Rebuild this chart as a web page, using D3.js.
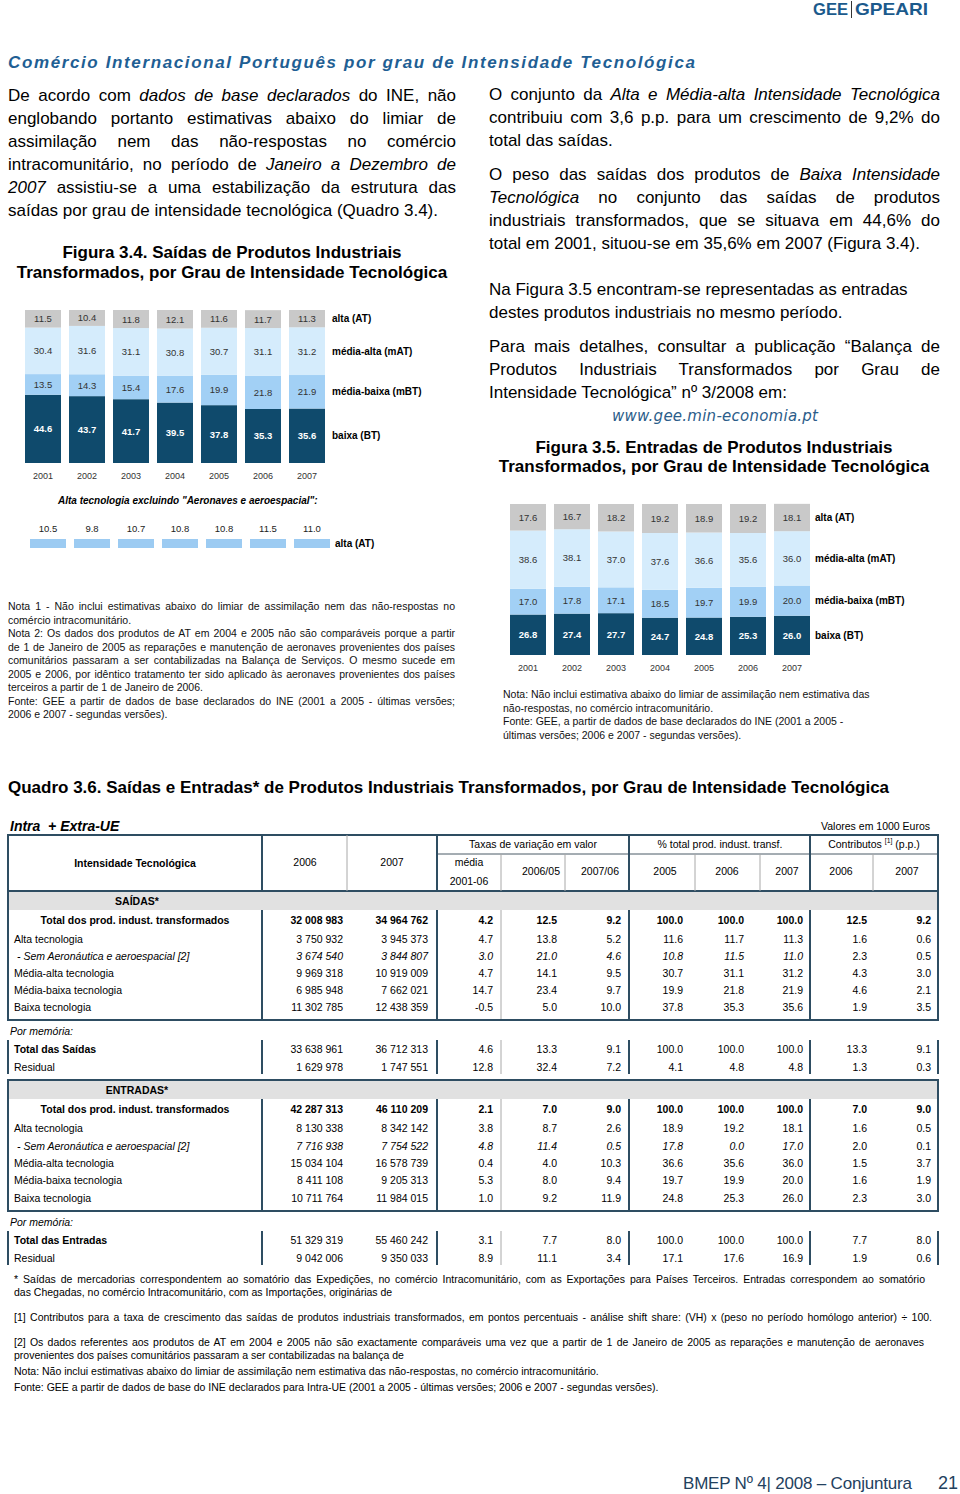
<!DOCTYPE html>
<html><head><meta charset="utf-8">
<script src="https://cdn.jsdelivr.net/npm/d3@7"></script>
<style>
body{margin:0;background:#fff;}
#page{position:relative;width:960px;height:1494px;overflow:hidden;font-family:"Liberation Sans",Arial,sans-serif;}
svg{position:absolute;left:0;top:0;font-family:"Liberation Sans",Arial,sans-serif;}
</style></head><body><div id="page"><svg id="svg" width="960" height="1494"></svg></div>
<script>
// ---------------- DATA ----------------
const years = ['2001','2002','2003','2004','2005','2006','2007'];
const seriesKeys = ['BT','mBT','mAT','AT'];
const seriesLabels = {AT:'alta (AT)', mAT:'média-alta (mAT)', mBT:'média-baixa (mBT)', BT:'baixa (BT)'};
// Figura 3.4 Saídas (%)
const saidasAT  = [11.5,10.4,11.8,12.1,11.6,11.7,11.3];
const saidasMAT = [30.4,31.6,31.1,30.8,30.7,31.1,31.2];
const saidasMBT = [13.5,14.3,15.4,17.6,19.9,21.8,21.9];
const saidasBT  = [44.6,43.7,41.7,39.5,37.8,35.3,35.6];
const saidasATexAero = [10.5,9.8,10.7,10.8,10.8,11.5,11.0];
// Figura 3.5 Entradas (%)
const entradasAT  = [17.6,16.7,18.2,19.2,18.9,19.2,18.1];
const entradasMAT = [38.6,38.1,37.0,37.6,36.6,35.6,36.0];
const entradasMBT = [17.0,17.8,17.1,18.5,19.7,19.9,20.0];
const entradasBT  = [26.8,27.4,27.7,24.7,24.8,25.3,26.0];
// Quadro 3.6
const saidasRowLabels = ['Total dos prod. indust. transformados','Alta tecnologia','- Sem Aeronáutica e aeroespacial [2]','Média-alta tecnologia','Média-baixa tecnologia','Baixa tecnologia'];
const saidasRows = [
 ['32 008 983','34 964 762','4.2','12.5','9.2','100.0','100.0','100.0','12.5','9.2'],
 ['3 750 932','3 945 373','4.7','13.8','5.2','11.6','11.7','11.3','1.6','0.6'],
 ['3 674 540','3 844 807','3.0','21.0','4.6','10.8','11.5','11.0','2.3','0.5'],
 ['9 969 318','10 919 009','4.7','14.1','9.5','30.7','31.1','31.2','4.3','3.0'],
 ['6 985 948','7 662 021','14.7','23.4','9.7','19.9','21.8','21.9','4.6','2.1'],
 ['11 302 785','12 438 359','-0.5','5.0','10.0','37.8','35.3','35.6','1.9','3.5']];
const saidasMemoLabels = ['Total das Saídas','Residual'];
const saidasMemo = [
 ['33 638 961','36 712 313','4.6','13.3','9.1','100.0','100.0','100.0','13.3','9.1'],
 ['1 629 978','1 747 551','12.8','32.4','7.2','4.1','4.8','4.8','1.3','0.3']];
const entradasRowLabels = saidasRowLabels;
const entradasRows = [
 ['42 287 313','46 110 209','2.1','7.0','9.0','100.0','100.0','100.0','7.0','9.0'],
 ['8 130 338','8 342 142','3.8','8.7','2.6','18.9','19.2','18.1','1.6','0.5'],
 ['7 716 938','7 754 522','4.8','11.4','0.5','17.8','0.0','17.0','2.0','0.1'],
 ['15 034 104','16 578 739','0.4','4.0','10.3','36.6','35.6','36.0','1.5','3.7'],
 ['8 411 108','9 205 313','5.3','8.0','9.4','19.7','19.9','20.0','1.6','1.9'],
 ['10 711 764','11 984 015','1.0','9.2','11.9','24.8','25.3','26.0','2.3','3.0']];
const entradasMemoLabels = ['Total das Entradas','Residual'];
const entradasMemo = [
 ['51 329 319','55 460 242','3.1','7.7','8.0','100.0','100.0','100.0','7.7','8.0'],
 ['9 042 006','9 350 033','8.9','11.1','3.4','17.1','17.6','16.9','1.9','0.6']];

// ---------------- HELPERS ----------------
const svg = d3.select('#svg');
function txt(x, y, segs, o = {}) {
  const t = (o.g || svg).append('text').attr('x', x).attr('y', y)
    .attr('font-size', o.size || 17).attr('font-weight', o.weight || 'normal')
    .attr('font-style', o.style || 'normal').attr('fill', o.fill || '#000')
    .attr('text-anchor', o.anchor || 'start').attr('dominant-baseline', 'central')
    .style('white-space', 'pre');
  if (o.family) t.attr('font-family', o.family);
  if (typeof segs === 'string') segs = [[segs]];
  segs.forEach(([s, f]) => {
    const ts = t.append('tspan').text(s);
    if (f && f.includes('i')) ts.attr('font-style', 'italic');
    if (f && f.includes('b')) ts.attr('font-weight', 'bold');
    if (f && f.includes('s')) ts.attr('font-size', (o.size || 17) * 0.65).attr('dy', -4);
    if (f && f.includes('r')) ts.attr('dy', 4);
  });
  if (o.width) {
    const w = t.node().getComputedTextLength();
    const n = (t.text().match(/ /g) || []).length;
    if (n) t.attr('word-spacing', (o.width - w) / n);
  }
  if (o.len) t.attr('textLength', o.len).attr('lengthAdjust', o.adj || 'spacing');
  return t;
}
function para(x, y0, lh, lines, o) {
  lines.forEach((l, i) => {
    const seg = l.s, oo = Object.assign({}, o);
    if (!l.j) delete oo.width;
    txt(x, y0 + i * lh, seg, oo);
  });
}

// ---------------- HEADER ----------------
txt(813, 9, 'GEE', {size: 17, weight: 'bold', fill: '#1b5a8c', len: 35, adj: 'spacingAndGlyphs'});
svg.append('line').attr('x1', 851.5).attr('x2', 851.5).attr('y1', 1).attr('y2', 18).attr('stroke', '#333').attr('stroke-width', 1);
txt(855, 9, 'GPEARI', {size: 17, weight: 'bold', fill: '#1b5a8c', len: 73, adj: 'spacingAndGlyphs'});
txt(8, 62, 'Comércio Internacional Português por grau de Intensidade Tecnológica',
  {size: 17, weight: 'bold', style: 'italic', fill: '#1f5f94', len: 687});

// ---------------- LEFT TEXT ----------------
para(8, 95, 23, [
  {s: [['De acordo com '], ['dados de base declarados', 'i'], [' do INE, não']], j: 1},
  {s: 'englobando portanto estimativas abaixo do limiar de', j: 1},
  {s: 'assimilação nem das não-respostas no comércio', j: 1},
  {s: [['intracomunitário, no período de '], ['Janeiro a Dezembro de', 'i']], j: 1},
  {s: [['2007', 'i'], [' assistiu-se a uma estabilização da estrutura das']], j: 1},
  {s: 'saídas por grau de intensidade tecnológica (Quadro 3.4).'}
], {size: 17, width: 448});

txt(232, 252, 'Figura 3.4. Saídas de Produtos Industriais', {size: 17, weight: 'bold', anchor: 'middle'});
txt(232, 272, 'Transformados, por Grau de Intensidade Tecnológica', {size: 17, weight: 'bold', anchor: 'middle'});

// ---------------- RIGHT TEXT ----------------
para(489, 94, 23, [
  {s: [['O conjunto da '], ['Alta e Média-alta Intensidade Tecnológica', 'i']], j: 1},
  {s: 'contribuiu com 3,6 p.p. para um crescimento de 9,2% do', j: 1},
  {s: 'total das saídas.'}
], {size: 17, width: 451});
para(489, 174, 23, [
  {s: [['O peso das saídas dos produtos de '], ['Baixa Intensidade', 'i']], j: 1},
  {s: [['Tecnológica', 'i'], [' no conjunto das saídas de produtos']], j: 1},
  {s: 'industriais transformados, que se situava em 44,6% do', j: 1},
  {s: 'total em 2001, situou-se em 35,6% em 2007 (Figura 3.4).'}
], {size: 17, width: 451});
para(489, 289, 23, [
  {s: 'Na Figura 3.5 encontram-se representadas as entradas'},
  {s: 'destes produtos industriais no mesmo período.'}
], {size: 17});
para(489, 346, 23, [
  {s: 'Para mais detalhes, consultar a publicação “Balança de', j: 1},
  {s: 'Produtos Industriais Transformados por Grau de', j: 1},
  {s: 'Intensidade Tecnológica” nº 3/2008 em:'}
], {size: 17, width: 451});
txt(612, 416, 'www.gee.min-economia.pt', {size: 15, style: 'italic', fill: '#2b5d8a', family: '"DejaVu Sans", sans-serif', len: 206});
txt(714, 447, 'Figura 3.5. Entradas de Produtos Industriais', {size: 17, weight: 'bold', anchor: 'middle'});
txt(714, 466, 'Transformados, por Grau de Intensidade Tecnológica', {size: 17, weight: 'bold', anchor: 'middle'});

// ---------------- STACKED CHARTS ----------------
const colors = {AT: '#c9c9c9', mAT: '#d5ecfc', mBT: '#a2d0f5', BT: '#0f4a6c'};
function stackChart(cfg) {
  const g = svg.append('g');
  const x = d3.scaleBand().domain(years).range(cfg.xr).paddingInner(8 / 44).paddingOuter(4 / 44);
  const y = d3.scaleLinear().domain([0, 100]).range(cfg.yr);
  const rows = years.map((yr, i) => ({year: yr, BT: cfg.BT[i], mBT: cfg.mBT[i], mAT: cfg.mAT[i], AT: cfg.AT[i]}));
  const st = d3.stack().keys(seriesKeys)(rows);
  const layer = g.selectAll('g.layer').data(st).join('g').attr('class', 'layer');
  layer.selectAll('rect').data(d => d.map(p => Object.assign(p, {key: d.key}))).join('rect')
    .attr('x', d => x(d.data.year)).attr('width', x.bandwidth())
    .attr('y', d => y(d[1])).attr('height', d => y(d[0]) - y(d[1]))
    .attr('fill', d => colors[d.key]);
  layer.selectAll('text').data(d => d).join('text')
    .attr('x', d => x(d.data.year) + x.bandwidth() / 2)
    .attr('y', d => (y(d[0]) + y(d[1])) / 2)
    .attr('text-anchor', 'middle').attr('dominant-baseline', 'central')
    .attr('font-size', 9.5)
    .attr('font-weight', d => d.key === 'BT' ? 'bold' : 'normal')
    .attr('fill', d => d.key === 'BT' ? '#fff' : '#333')
    .text(d => d.data[d.key].toFixed(1));
  // series labels at the last bar
  const last = years[years.length - 1];
  st.forEach(s => {
    const p = s[s.length - 1];
    g.append('text').attr('x', cfg.labelX).attr('y', (y(p[0]) + y(p[1])) / 2)
      .attr('dominant-baseline', 'central').attr('font-size', 10).attr('font-weight', 'bold')
      .text(seriesLabels[s.key]);
  });
  const ax = g.append('g').attr('transform', `translate(0,${cfg.yr[0]})`)
    .call(d3.axisBottom(x).tickSize(0).tickPadding(10));
  ax.select('.domain').remove();
  ax.selectAll('text').attr('font-size', 9).attr('fill', '#333').attr('font-family', '"Liberation Sans",Arial,sans-serif');
  return {x, y};
}
stackChart({xr: [21, 329], yr: [463, 310], AT: saidasAT, mAT: saidasMAT, mBT: saidasMBT, BT: saidasBT, labelX: 332});
stackChart({xr: [506, 814], yr: [655, 504], AT: entradasAT, mAT: entradasMAT, mBT: entradasMBT, BT: entradasBT, labelX: 815});

// Alta tecnologia excluindo aeronaves
txt(58, 500, 'Alta tecnologia excluindo "Aeronaves e aeroespacial":', {size: 10, weight: 'bold', style: 'italic'});
{
  const x = d3.scaleBand().domain(years).range([26, 334]).paddingInner(8 / 44).paddingOuter(4 / 44);
  const g = svg.append('g');
  g.selectAll('rect').data(years).join('rect')
    .attr('x', d => x(d)).attr('width', x.bandwidth()).attr('y', 539).attr('height', 9).attr('fill', '#9ccbf2');
  g.selectAll('text').data(saidasATexAero).join('text')
    .attr('x', (d, i) => x(years[i]) + x.bandwidth() / 2).attr('y', 528)
    .attr('text-anchor', 'middle').attr('dominant-baseline', 'central').attr('font-size', 9.5).attr('fill', '#222')
    .text(d => d.toFixed(1));
  txt(335, 543, 'alta (AT)', {size: 10, weight: 'bold'});
}

// ---------------- NOTES ----------------
para(8, 606, 13.5, [
  {s: 'Nota 1 - Não inclui estimativas abaixo do limiar de assimilação nem das não-respostas no', j: 1},
  {s: 'comércio intracomunitário.'},
  {s: 'Nota 2: Os dados dos produtos de AT em 2004 e 2005 não são comparáveis porque a partir', j: 1},
  {s: 'de 1 de Janeiro de 2005 as reparações e manutenção de aeronaves provenientes dos países', j: 1},
  {s: 'comunitários passaram a ser contabilizadas na Balança de Serviços. O mesmo sucede em', j: 1},
  {s: '2005 e 2006, por idêntico tratamento ter sido aplicado às aeronaves provenientes dos países', j: 1},
  {s: 'terceiros a partir de 1 de Janeiro de 2006.'},
  {s: 'Fonte: GEE a partir de dados de base declarados do INE (2001 a 2005 - últimas versões;', j: 1},
  {s: '2006 e 2007 - segundas versões).'}
], {size: 10.5, width: 447, fill: '#111'});
para(503, 694, 13.5, [
  {s: 'Nota: Não inclui estimativa abaixo do limiar de assimilação nem estimativa das'},
  {s: 'não-respostas, no comércio intracomunitário.'},
  {s: 'Fonte: GEE, a partir de dados de base declarados do INE (2001 a 2005 -'},
  {s: 'últimas versões; 2006 e 2007 - segundas versões).'}
], {size: 10.5, fill: '#111'});

// ---------------- QUADRO 3.6 ----------------
txt(8, 787, 'Quadro 3.6. Saídas e Entradas* de Produtos Industriais Transformados, por Grau de Intensidade Tecnológica', {size: 17, weight: 'bold'});
txt(10, 826, 'Intra  + Extra-UE', {size: 14, weight: 'bold', style: 'italic'});
txt(930, 826, 'Valores em 1000 Euros', {size: 10.5, anchor: 'end'});

const T = svg.append('g');
const thick = '#2e4d62', thin = '#a8a8a8';
function hl(y, x1, x2, w, c) { T.append('line').attr('x1', x1).attr('x2', x2).attr('y1', y).attr('y2', y).attr('stroke', c).attr('stroke-width', w); }
function vl(x, y1, y2, w, c) { T.append('line').attr('x1', x).attr('x2', x).attr('y1', y1).attr('y2', y2).attr('stroke', c).attr('stroke-width', w); }
const thickCols = [8, 262, 437, 629, 810, 938];
const colRight = [343, 428, 493, 557, 621, 683, 744, 803, 867, 931];

// header
T.append('rect').attr('x', 8).attr('y', 892).attr('width', 930).attr('height', 18).attr('fill', '#e1e1e1');
hl(835, 7, 939, 2, thick); hl(891, 7, 939, 2, thick); hl(854, 437, 938, 1, '#4a5a66');
thickCols.forEach(c => vl(c, 835, 891, 2, thick));
vl(347, 835, 891, 1, thin);
[501, 565, 695, 760, 873].forEach(c => vl(c, 854, 891, 1, thin));
const hs = 10.5;
txt(135, 863, 'Intensidade Tecnológica', {size: hs, weight: 'bold', anchor: 'middle'});
txt(305, 862, '2006', {size: hs, anchor: 'middle'});
txt(392, 862, '2007', {size: hs, anchor: 'middle'});
txt(533, 844, 'Taxas de variação em valor', {size: hs, anchor: 'middle'});
txt(469, 862, 'média', {size: hs, anchor: 'middle'});
txt(469, 881, '2001-06', {size: hs, anchor: 'middle'});
txt(541, 871, '2006/05', {size: hs, anchor: 'middle'});
txt(600, 871, '2007/06', {size: hs, anchor: 'middle'});
txt(720, 844, '% total prod. indust. transf.', {size: hs, anchor: 'middle'});
txt(665, 871, '2005', {size: hs, anchor: 'middle'});
txt(727, 871, '2006', {size: hs, anchor: 'middle'});
txt(787, 871, '2007', {size: hs, anchor: 'middle'});
txt(874, 844, [['Contributos '], ['[1]', 's'], [' (p.p.)', 'r']], {size: hs, anchor: 'middle'});
txt(841, 871, '2006', {size: hs, anchor: 'middle'});
txt(907, 871, '2007', {size: hs, anchor: 'middle'});

function bodyBlock(top, bandLabel, labels, rows, rowYs) {
  // top = y of top border; band 18px
  if (bandLabel !== 'SAÍDAS*') {
    T.append('rect').attr('x', 8).attr('y', top + 1).attr('width', 930).attr('height', 18).attr('fill', '#e1e1e1');
    hl(top, 7, 939, 2, thick);
  }
  const bandBottom = top + 19, bottom = rowYs[rowYs.length - 1] + 13;
  txt(137, top + 9.5, bandLabel, {size: hs, weight: 'bold', anchor: 'middle'});
  vl(8, top, bottom, 2, thick); vl(938, top, bottom, 2, thick);
  thickCols.slice(1, -1).forEach(c => vl(c, bandBottom, bottom, 2, thick));
  vl(501, bandBottom, bottom, 1, thin);
  hl(bottom, 7, 939, 2, thick);
  rows.forEach((vals, r) => {
    const y = rowYs[r];
    const kind = r === 0 ? 'total' : (r === 2 ? 'italic' : 'plain');
    if (kind === 'total') txt(135, y, labels[r], {size: hs, weight: 'bold', anchor: 'middle'});
    else if (kind === 'italic') txt(17, y, labels[r], {size: hs, style: 'italic'});
    else txt(14, y, labels[r], {size: hs});
    vals.forEach((v, i) => txt(colRight[i], y, v, {size: hs, anchor: 'end',
      weight: kind === 'total' ? 'bold' : 'normal', style: (kind === 'italic' && i < 8) ? 'italic' : 'normal'}));
  });
  return bottom;
}
function memoBlock(y0, labels, rows) {
  txt(10, y0, 'Por memória:', {size: hs, style: 'italic'});
  const y1 = y0 + 9, y2 = y0 + 43;
  thickCols.forEach(c => vl(c, y1, y2, 2, thick));
  vl(501, y1, y2, 1, thin);
  rows.forEach((vals, r) => {
    const y = y0 + 18 + r * 17.5;
    txt(14, y, labels[r], {size: hs, weight: r === 0 ? 'bold' : 'normal'});
    vals.forEach((v, i) => txt(colRight[i], y, v, {size: hs, anchor: 'end'}));
  });
}
bodyBlock(891, 'SAÍDAS*', saidasRowLabels, saidasRows, [920, 939, 956, 973, 990, 1007]);
memoBlock(1031, saidasMemoLabels, saidasMemo);
bodyBlock(1080, 'ENTRADAS*', entradasRowLabels, entradasRows, [1109, 1128, 1146, 1163, 1180, 1198]);
memoBlock(1222, entradasMemoLabels, entradasMemo);

// footnotes
const fs = 10.5;
txt(14, 1279, '* Saídas de mercadorias correspondentem ao somatório das Expedições, no comércio Intracomunitário, com as Exportações para Países Terceiros. Entradas correspondem ao somatório', {size: fs, width: 911});
txt(14, 1292, 'das Chegadas, no comércio Intracomunitário, com as Importações, originárias de', {size: fs});
txt(14, 1317, '[1] Contributos para a taxa de crescimento das saídas de produtos industriais transformados, em pontos percentuais - análise shift share: (VH) x (peso no período homólogo anterior) ÷ 100.', {size: fs, width: 918});
txt(14, 1342, '[2] Os dados referentes aos produtos de AT em 2004 e 2005 não são exactamente comparáveis uma vez que a partir de 1 de Janeiro de 2005 as reparações e manutenção de aeronaves', {size: fs, width: 910});
txt(14, 1355, 'provenientes dos países comunitários passaram a ser contabilizadas na balança de', {size: fs});
txt(14, 1371, 'Nota: Não inclui estimativas abaixo do limiar de assimilação nem estimativa das não-respostas, no comércio intracomunitário.', {size: fs});
txt(14, 1387, 'Fonte: GEE a partir de dados de base do INE declarados para Intra-UE (2001 a 2005 - últimas versões; 2006 e 2007 - segundas versões).', {size: fs});

// footer
txt(683, 1483, 'BMEP Nº 4| 2008 – Conjuntura', {size: 17, fill: '#23415e', len: 229});
txt(958, 1483, '21', {size: 18, fill: '#23415e', anchor: 'end'});
</script></body></html>
